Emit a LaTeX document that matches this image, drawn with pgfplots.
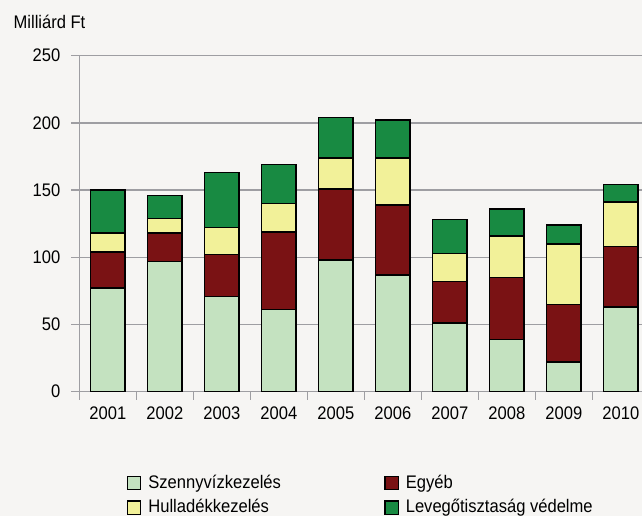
\documentclass[border=0pt]{standalone}
\usepackage{fontspec}
\setmainfont[FakeStretch=0.91]{Liberation Sans}
\usepackage{pgfplots}
\pgfplotsset{compat=1.18}

\definecolor{bgcol}{HTML}{F6F5F3}
\definecolor{gridcol}{HTML}{9E9EA2}
\definecolor{szenny}{HTML}{C4E2C0}
\definecolor{egyeb}{HTML}{7A1214}
\definecolor{hulladek}{HTML}{F2F199}
\definecolor{levego}{HTML}{188A42}

\pgfplotsset{sqlegend/.style={legend image code/.code={%
  \draw[##1,draw=black,line width=0.6pt] (0pt,-3.3pt) rectangle (6.6pt,3.3pt);}}}

\begin{document}
\begin{tikzpicture}
\fill[bgcol] (0,0) rectangle (321pt,258pt);
\node[anchor=west, inner sep=0pt, font=\fontsize{9.1}{11}\selectfont] at (6.6pt,247pt) {Milliárd Ft};
\begin{scope}
\clip (0,0) rectangle (321pt,258pt);
\begin{axis}[
  at={(39.65pt,62.15pt)}, anchor=south west,
  scale only axis, width=285pt, height=168pt,
  xmin=0.5, xmax=10.5, ymin=0, ymax=250,
  ybar stacked, bar width=17.3pt,
  axis x line*=bottom, axis y line*=left,
  axis line style={gridcol, line width=0.75pt},
  tick style={gridcol, line width=0.75pt},
  tick align=outside, major tick length=4pt,
  ytick={0,50,...,250},
  xtick={0.5,1.5,...,10.5},
  x tick label as interval,
  xticklabels={2001,2002,2003,2004,2005,2006,2007,2008,2009,2010},
  ymajorgrids, grid style={gridcol, line width=0.75pt},
  ticklabel style={font=\fontsize{9.1}{11}\selectfont},
  yticklabel style={xshift=-2pt},
  /pgf/number format/assume math mode=true,
  every axis plot/.append style={draw=black, line width=0.75pt},
  legend columns=2,
  legend style={draw=none, fill=none, inner sep=0pt, anchor=north west,
    at={(0.083,-0.235)}, font=\fontsize{9.1}{11}\selectfont,
    /tikz/every odd column/.append style={column sep=1.5pt},
    /tikz/every even column/.append style={column sep=0pt},
    row sep=0pt},
  legend cell align=left,
]
\addplot[fill=szenny, sqlegend] coordinates {
  (1,77)(2,97)(3,71)(4,61)(5,98)(6,87)(7,51)(8,39)(9,22)(10,63)};
\addplot[fill=egyeb, sqlegend] coordinates {
  (1,27)(2,21)(3,31)(4,58)(5,53)(6,52)(7,31)(8,46)(9,43)(10,45)};
\addplot[fill=hulladek, sqlegend] coordinates {
  (1,14)(2,11)(3,20)(4,21)(5,23)(6,35)(7,21)(8,31)(9,45)(10,33)};
\addplot[fill=levego, sqlegend] coordinates {
  (1,32)(2,17)(3,41)(4,29)(5,30)(6,28)(7,25)(8,20)(9,14)(10,13)};
\legend{\makebox[116pt][l]{Szennyvízkezelés}, Egyéb, Hulladékkezelés, Levegőtisztaság védelme}
\end{axis}
\end{scope}
\pgfresetboundingbox
\useasboundingbox (0,0) rectangle (321pt,258pt);
\end{tikzpicture}
\end{document}
